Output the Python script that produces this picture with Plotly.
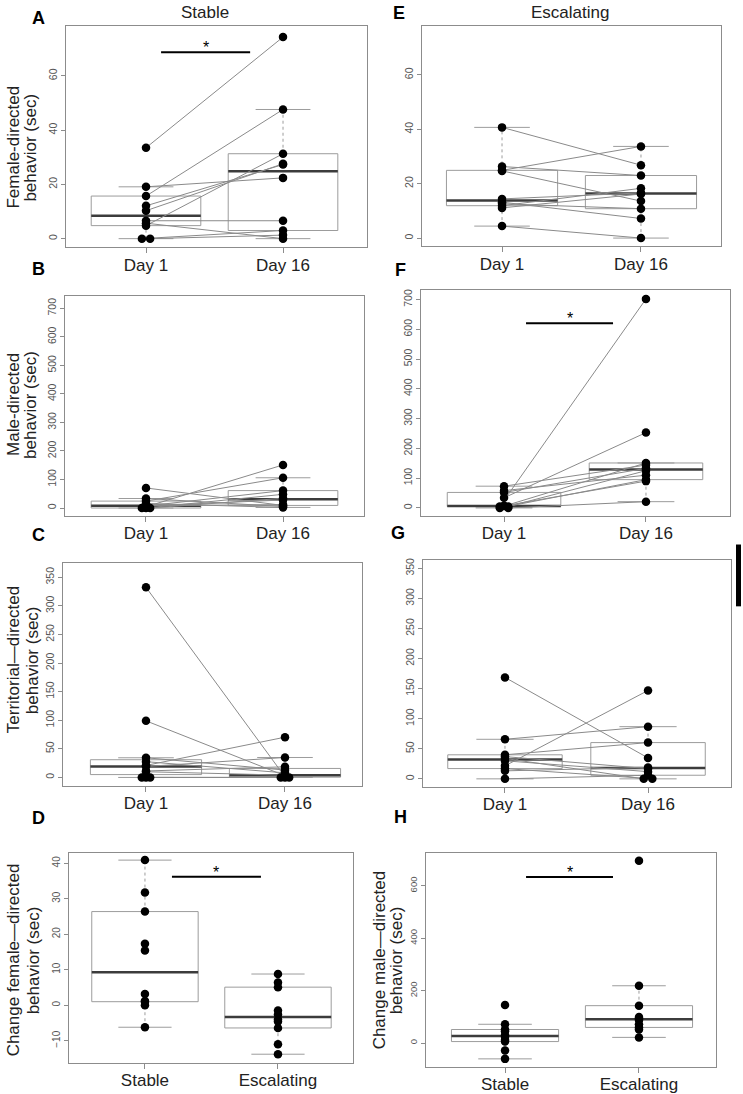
import numpy as np
import plotly.graph_objects as go

W, H = 743, 1094

# ---------------- data ----------------
day_labels = ["Day 1", "Day 16"]
group_labels = ["Stable", "Escalating"]

fem_stable_day1 = [33.5, 15.7, 4.8, 10.3, 12.1, 19.1, 6.6, 0, 0, 5.7]
fem_stable_day16 = [74.3, 47.6, 31.3, 27.6, 27.3, 22.4, 6.6, 3.0, 1.3, 0]

fem_escal_day1 = [40.7, 24.9, 26.3, 24.7, 4.4, 13.2, 12.6, 11.1, 11.9, 14.4]
fem_escal_day16 = [26.8, 33.7, 23.0, 13.6, 0, 7.2, 10.8, 16.2, 18.3, 16.6]

male_stable_day1 = [70.3, 33.3, 0, 24.2, 0, 0, 7, 7.5, 8, 16]
male_stable_day16 = [9, 5, 151, 106, 48, 34, 61, 28, 12, 2]

male_escal_day1 = [5, 34, 6, 0, 7, 73, 58, 0, 52, 5]
male_escal_day16 = [702, 253, 151, 95, 90, 144, 110, 21, 133, 125]

terr_stable_day1 = [332.5, 99, 21, 19.2, 34.4, 27.6, 11.3, 10, 0, 0, 0]
terr_stable_day16 = [1, 3, 70.4, 34.9, 12.9, 8, 18.6, 4, 0, 0, 0]

terr_escal_day1 = [168.7, 21.6, 65.8, 40, 37, 34, 30, 17.1, 13.3, 0]
terr_escal_day16 = [34.8, 147, 86.8, 60.3, 17, 0, 12, 0, 19, 6]

change_fem_stable = [40.9, 31.8, 26.4, 17.3, 15.4, 3.2, 1.2, 1.0, 0.0, -6.2]
change_fem_escal = [8.8, 6.4, 5.1, -1.5, -2.6, -4.0, -4.6, -6.4, -11.0, -13.8]

change_male_stable = [146, 72, 52, 45, 30, 24, 12, 6, -28, -60]
change_male_escal = [696, 219, 143, 100, 94, 88, 72, 60, 52, 22]

# ---------------- panel layout / style config ----------------
panels = [
    dict(key="A", box=(66, 23, 367, 245), xr=(0.416, 2.613), yr=(-3.2, 78.4),
         yt=[0, 20, 40, 60], labels=day_labels, series=(fem_stable_day1, fem_stable_day16),
         paired=True, sig=(1.11, 1.76, 68.7),
         ytitle=("Female-directed", "behavior (sec)"), ytpos=(14, 31, 145), letter=(38, 15), tfs=10.5),
    dict(key="E", box=(422, 23, 721, 244), xr=(0.424, 2.576), yr=(-3.04, 78.0),
         yt=[0, 20, 40, 60], labels=day_labels, series=(fem_escal_day1, fem_escal_day16),
         paired=True, sig=None, ytitle=None, letter=(399, 10), tfs=10.5),
    dict(key="B", box=(65, 294, 364, 514), xr=(0.409, 2.591), yr=(-26.6, 742.6),
         yt=[0, 100, 200, 300, 400, 500, 600, 700], labels=day_labels,
         series=(male_stable_day1, male_stable_day16), paired=True, sig=None,
         ytitle=("Male-directed", "behavior (sec)"), ytpos=(14, 31, 403), letter=(38, 267), tfs=10.5),
    dict(key="F", box=(421, 288, 730, 514), xr=(0.415, 2.592), yr=(-25.8, 731.4),
         yt=[0, 100, 200, 300, 400, 500, 600, 700], labels=day_labels,
         series=(male_escal_day1, male_escal_day16), paired=True, sig=(1.155, 1.768, 620),
         ytitle=None, letter=(400, 268), tfs=10.5),
    dict(key="C", box=(63, 562, 362, 785), xr=(0.403, 2.554), yr=(-14.7, 374.2),
         yt=[0, 50, 100, 150, 200, 250, 300, 350], labels=day_labels,
         series=(terr_stable_day1, terr_stable_day16), paired=True, sig=None,
         ytitle=("Territorial\u2014directed", "behavior (sec)"), ytpos=(13, 32, 659), letter=(38, 533), tfs=10.5),
    dict(key="G", box=(423, 559, 731, 786), xr=(0.427, 2.580), yr=(-13.3, 363.2),
         yt=[0, 50, 100, 150, 200, 250, 300, 350], labels=day_labels,
         series=(terr_escal_day1, terr_escal_day16), paired=True, sig=None,
         ytitle=None, letter=(398, 531), tfs=10.5),
    dict(key="D", box=(69, 852, 353, 1063), xr=(0.429, 2.564), yr=(-16.3, 43.0),
         yt=[-10, 0, 10, 20, 30, 40], labels=group_labels,
         series=(change_fem_stable, change_fem_escal), paired=False, sig=(1.203, 1.872, 36.2),
         ytitle=("Change female\u2014directed", "behavior (sec)"), ytpos=(13, 33, 960), letter=(38, 817), tfs=10),
    dict(key="H", box=(426, 852, 716, 1067), xr=(0.410, 2.575), yr=(-91.3, 726.8),
         yt=[0, 200, 400, 600], labels=group_labels,
         series=(change_male_stable, change_male_escal), paired=False, sig=(1.157, 1.806, 634),
         ytitle=("Change male\u2014directed", "behavior (sec)"), ytpos=(379, 396, 960), letter=(400, 816), tfs=9.5),
]

FONT = "Liberation Sans, Arial, Helvetica, sans-serif"
FRAME = "#8c8c8c"
BOXC = "#9c9c9c"
MEDC = "#3c3c3c"
LINEC = "#8a8a8a"
BW = 0.8


def fivenum(x):
    xs = np.sort(np.asarray(x, float))
    n = len(xs)
    n4 = np.floor((n + 3) / 2) / 2
    d = np.array([1, n4, (n + 1) / 2, n + 1 - n4, n])
    return 0.5 * (xs[np.floor(d - 1).astype(int)] + xs[np.ceil(d - 1).astype(int)])


def box_stats(x, coef=1.5):
    x = np.asarray(x, float)
    s = fivenum(x)
    iqr = s[3] - s[1]
    keep = x[(x >= s[1] - coef * iqr) & (x <= s[3] + coef * iqr)]
    return keep.min(), s[1], s[2], s[3], keep.max()


def offsets(vals, spread=0.06):
    vals = list(vals)
    out = [0.0] * len(vals)
    seen = {}
    for i, v in enumerate(vals):
        seen.setdefault(v, []).append(i)
    for v, idx in seen.items():
        n = len(idx)
        if n > 1:
            offs = np.linspace(-spread / 2, spread / 2, n)
            for k, i in enumerate(idx):
                out[i] = offs[k]
    return out


fig = go.Figure()
layout = dict(width=W, height=H, margin=dict(l=0, r=0, t=0, b=0), autosize=False,
              paper_bgcolor="white", plot_bgcolor="white", showlegend=False,
              font=dict(family=FONT, color="#222"))
annotations = []
shapes = []


def paper(x, y):
    return x / W, 1 - y / H


for i, p in enumerate(panels, start=1):
    xa = "xaxis" if i == 1 else f"xaxis{i}"
    ya = "yaxis" if i == 1 else f"yaxis{i}"
    xref = "x" if i == 1 else f"x{i}"
    yref = "y" if i == 1 else f"y{i}"
    x0, y0, x1, y1 = p["box"]
    layout[xa] = dict(domain=[x0 / W, x1 / W], range=list(p["xr"]), anchor=yref,
                      tickvals=[1, 2], ticktext=p["labels"], ticks="outside", ticklen=5,
                      tickcolor=FRAME, showline=True, mirror=True, linecolor=FRAME, linewidth=1,
                      showgrid=False, zeroline=False, tickfont=dict(size=17, color="#222", family=FONT),
                      ticklabelstandoff=-3, fixedrange=True)
    layout[ya] = dict(domain=[1 - y1 / H, 1 - y0 / H], range=list(p["yr"]), anchor=xref,
                      tickvals=p["yt"], ticks="outside", ticklen=4, tickcolor=FRAME, tickangle=-90,
                      showline=True, mirror=True, linecolor=FRAME, linewidth=1, showgrid=False,
                      zeroline=False, tickfont=dict(size=p["tfs"], color="#555", family=FONT),
                      fixedrange=True)

    # boxplots
    for g, vals in enumerate(p["series"]):
        pos = g + 1
        wlo, q1, med, q3, whi = box_stats(vals)
        fig.add_trace(go.Scatter(x=[pos - BW / 2, pos + BW / 2, pos + BW / 2, pos - BW / 2, pos - BW / 2],
                                 y=[q1, q1, q3, q3, q1], mode="lines",
                                 line=dict(color=BOXC, width=1), xaxis=xref, yaxis=yref, hoverinfo="skip"))
        fig.add_trace(go.Scatter(x=[pos, pos, None, pos, pos], y=[q3, whi, None, wlo, q1], mode="lines",
                                 line=dict(color=BOXC, width=1, dash="3px,3px"), xaxis=xref, yaxis=yref,
                                 hoverinfo="skip"))
        fig.add_trace(go.Scatter(x=[pos - BW / 4, pos + BW / 4, None, pos - BW / 4, pos + BW / 4],
                                 y=[whi, whi, None, wlo, wlo], mode="lines",
                                 line=dict(color=BOXC, width=1), xaxis=xref, yaxis=yref, hoverinfo="skip"))
        fig.add_trace(go.Scatter(x=[pos - BW / 2, pos + BW / 2], y=[med, med], mode="lines",
                                 line=dict(color=MEDC, width=2.5), xaxis=xref, yaxis=yref, hoverinfo="skip"))

    offs = [offsets(s) for s in p["series"]]

    # paired lines
    if p["paired"]:
        a, b = p["series"]
        lx, ly = [], []
        for k in range(len(a)):
            lx += [1 + offs[0][k], 2 + offs[1][k], None]
            ly += [a[k], b[k], None]
        fig.add_trace(go.Scatter(x=lx, y=ly, mode="lines", line=dict(color=LINEC, width=1),
                                 xaxis=xref, yaxis=yref, hoverinfo="skip"))

    # points
    for g, vals in enumerate(p["series"]):
        fig.add_trace(go.Scatter(x=[g + 1 + o for o in offs[g]], y=vals, mode="markers",
                                 marker=dict(color="black", size=8.5, line=dict(width=0)),
                                 xaxis=xref, yaxis=yref, hoverinfo="skip"))

    # significance bar
    if p["sig"]:
        sx0, sx1, sy = p["sig"]
        fig.add_trace(go.Scatter(x=[sx0, sx1], y=[sy, sy], mode="lines",
                                 line=dict(color="black", width=2), xaxis=xref, yaxis=yref,
                                 hoverinfo="skip"))
        annotations.append(dict(x=(sx0 + sx1) / 2, y=sy, xref=xref, yref=yref, text="*",
                                showarrow=False, yanchor="bottom", yshift=-6,
                                font=dict(size=16, color="black", family=FONT)))

    # y titles
    if p["ytitle"]:
        xa1, xa2, yc = p["ytpos"]
        for txt, xx in zip(p["ytitle"], (xa1, xa2)):
            px, py = paper(xx, yc)
            annotations.append(dict(x=px, y=py, xref="paper", yref="paper", text=txt, textangle=-90,
                                    showarrow=False, xanchor="center", yanchor="middle",
                                    font=dict(size=17, color="#222", family=FONT)))
    # panel letter
    lx_, ly_ = paper(*p["letter"])
    annotations.append(dict(x=lx_, y=ly_, xref="paper", yref="paper", text="<b>%s</b>" % p["key"],
                            showarrow=False, xanchor="center", yanchor="middle",
                            font=dict(size=18, color="black", family=FONT)))

# column titles
for txt, (cx, cy) in (("Stable", (205, 10)), ("Escalating", (570, 10))):
    px, py = paper(cx, cy)
    annotations.append(dict(x=px, y=py, xref="paper", yref="paper", text=txt, showarrow=False,
                            xanchor="center", yanchor="middle", font=dict(size=17, color="#222", family=FONT)))

# stray black mark at right edge of the original figure
shapes.append(dict(type="rect", xref="paper", yref="paper", x0=736 / W, x1=741 / W,
                   y0=1 - 605 / H, y1=1 - 543 / H, fillcolor="black", line=dict(width=0)))

layout["annotations"] = annotations
layout["shapes"] = shapes
fig.update_layout(**layout)
fig.write_html("out.html", config={"displayModeBar": False},
               post_script="document.body.style.margin='0px';document.body.style.overflow='hidden';")
